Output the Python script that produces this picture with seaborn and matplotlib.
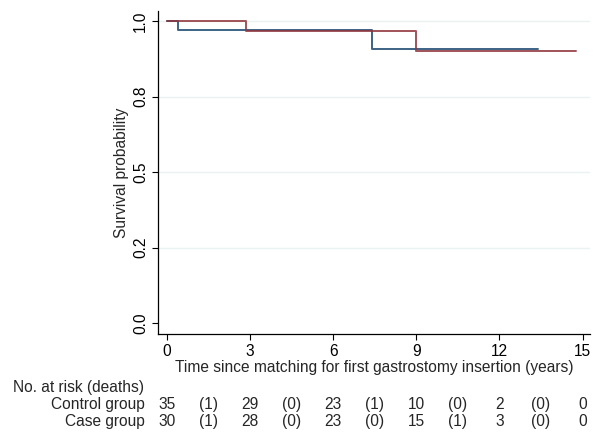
import matplotlib
matplotlib.use("Agg")
import matplotlib.pyplot as plt
import matplotlib.transforms as mtransforms
import seaborn as sns
import pandas as pd

# Kaplan-Meier step data
control_time = [0, 0.4, 7.4, 13.4]
control_surv = [1.0, 0.971, 0.907, 0.907]
case_time = [0, 2.85, 9.0, 14.77]
case_surv = [1.0, 0.967, 0.900, 0.900]

# risk table
risk_times = [0, 3, 6, 9, 12, 15]
control_risk = [35, 29, 23, 10, 2, 0]
control_deaths = [1, 0, 1, 0, 0]
case_risk = [30, 28, 23, 15, 3, 0]
case_deaths = [1, 0, 0, 1, 0]

y_ticks = [0, 0.25, 0.5, 0.75, 1.0]
y_ticklabels = ["0.0", "0.2", "0.5", "0.8", "1.0"]

sns.set_style("white")
plt.rcParams["font.family"] = ["Liberation Sans", "DejaVu Sans"]

fig = plt.figure(figsize=(5.98, 4.33), dpi=100)
ax = fig.add_axes([158 / 598, 1 - 334 / 433, 432 / 598, 323 / 433])

df = pd.concat([
    pd.DataFrame({"time": control_time, "surv": control_surv, "group": "Control group"}),
    pd.DataFrame({"time": case_time, "surv": case_surv, "group": "Case group"}),
])
palette = {"Control group": "#1a476f", "Case group": "#90353b"}
sns.lineplot(data=df, x="time", y="surv", hue="group", palette=palette,
             drawstyle="steps-post", linewidth=1.4, alpha=0.85, legend=False,
             ax=ax, estimator=None, sort=False)

for yv in y_ticks[1:]:
    ax.axhline(yv, color="#eaf2f3", linewidth=1.0, zorder=0)

fs = 11.2
ax.set_xlim(-0.325, 15.27)
ax.set_ylim(-0.036, 1.033)
ax.set_xticks(risk_times)
ax.set_yticks(y_ticks)
ax.set_yticklabels(y_ticklabels, rotation=90, va="center")
ax.tick_params(axis="both", direction="out", length=4, width=0.8, labelsize=fs,
               bottom=True, left=True, pad=3, colors="black")
ax.set_xlabel("Time since matching for first gastrostomy insertion (years)", fontsize=fs, labelpad=1)
ax.set_ylabel("Survival probability", fontsize=fs, labelpad=3)
sns.despine(ax=ax)
for s in ["left", "bottom"]:
    ax.spines[s].set_color("black")
    ax.spines[s].set_linewidth(0.9)

# number at risk table
trans = mtransforms.blended_transform_factory(ax.transData, fig.transFigure)
fig.text(13 / 598, 1 - 392 / 433, "No. at risk (deaths)", fontsize=fs, va="baseline", ha="left")
rows = [("Control group", control_risk, control_deaths, 409),
        ("Case group", case_risk, case_deaths, 426)]
for label, risk, deaths, ypx in rows:
    yf = 1 - ypx / 433
    fig.text(145 / 598, yf, label, fontsize=fs, va="baseline", ha="right")
    for t, n in zip(risk_times, risk):
        ax.text(t, yf, str(n), transform=trans, fontsize=fs, va="baseline", ha="center", clip_on=False)
    for i, d in enumerate(deaths):
        mid = (risk_times[i] + risk_times[i + 1]) / 2
        ax.text(mid, yf, f"({d})", transform=trans, fontsize=fs, va="baseline", ha="center", clip_on=False)

fig.savefig("out.png", dpi=100)
